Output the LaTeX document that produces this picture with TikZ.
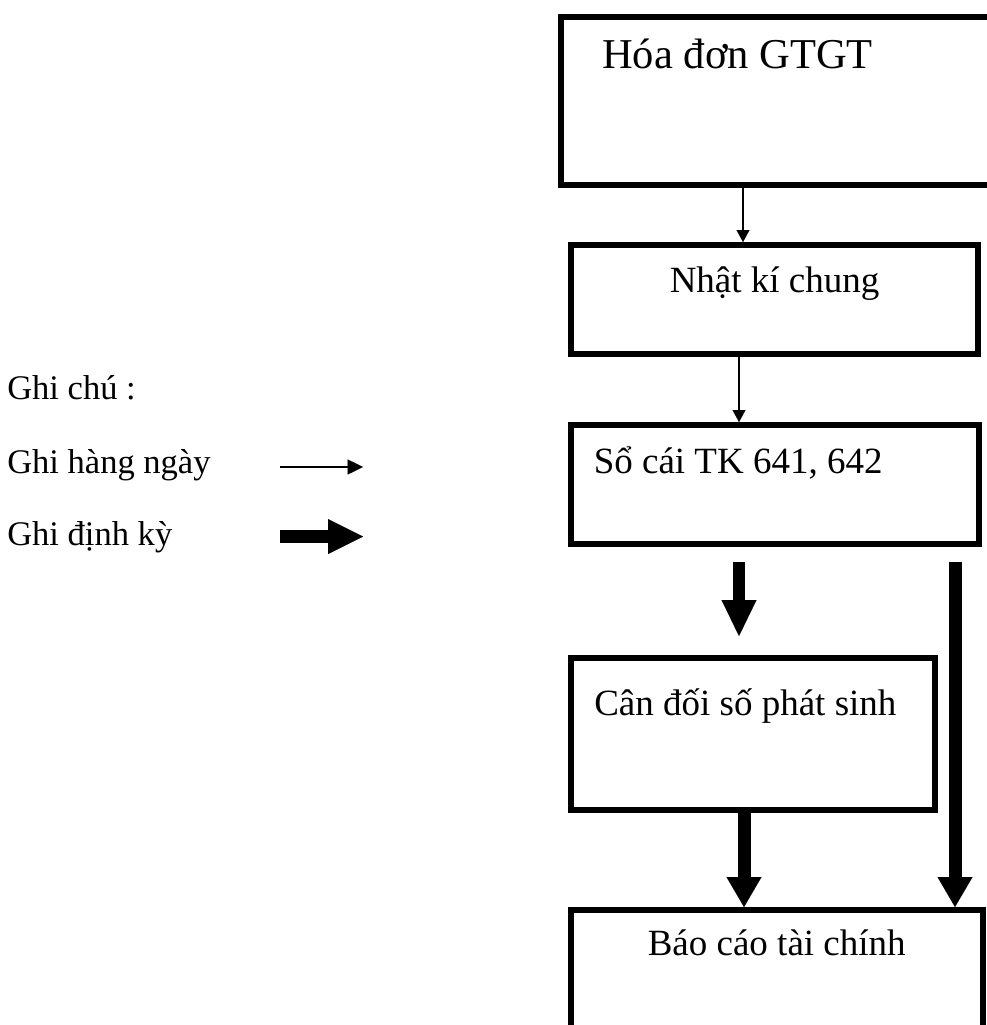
\documentclass[tikz,border=0pt]{standalone}
\usepackage{fontspec}
\setmainfont{Liberation Serif}
\usetikzlibrary{arrows.meta}
\newcommand\pxu{0.75pt}
\begin{document}
\begin{tikzpicture}[x=0.75pt,y=-0.75pt,
  box/.style={draw,line width=4.5pt,inner sep=0pt,rectangle},
  boxtext/.style={anchor=base west,inner sep=0pt,font=\fontsize{27.75}{33}\selectfont},
  titletext/.style={anchor=base west,inner sep=0pt,font=\fontsize{31.9}{38}\selectfont},
  legendtext/.style={anchor=base west,inner sep=0pt,font=\fontsize{25.9}{31}\selectfont},
  daily/.style={line width=1pt,-{Triangle[length=9pt,width=9.75pt,line width=0.01pt]}},
  periodic/.style={line width=9pt,-{Triangle[length=27pt,width=26.25pt,line width=0.01pt]}},
  periodicshort/.style={line width=9.75pt,-{Triangle[length=22.5pt,width=26.25pt,line width=0.01pt]}}
]
\useasboundingbox (0,0) rectangle (987,1025);
\clip (0,0) rectangle (987,1025);

% flow boxes
\node[box,minimum width=439*\pxu,minimum height=168*\pxu] (b1) at (780.5,101) {};
\node[box,minimum width=407*\pxu,minimum height=109*\pxu] (b2) at (774.5,299.5) {};
\node[box,minimum width=408*\pxu,minimum height=119*\pxu] (b3) at (775,484.5) {};
\node[box,minimum width=364*\pxu,minimum height=152*\pxu] (b4) at (753,734) {};
\node[box,minimum width=412*\pxu,minimum height=135*\pxu] (b5) at (777,977.5) {};

% box captions
\node[titletext] (t1) at (602,68) {Hóa đơn GTGT};
\node[boxtext] (t2) at (669.5,292) {Nhật kí chung};
\node[boxtext] (t3) at (593.5,473) {Sổ cái TK 641, 642};
\node[boxtext] (t4) at (594,715) {Cân đối số phát sinh};
\node[boxtext] (t5) at (647.5,955) {Báo cáo tài chính};

% connector columns
\coordinate (c1) at (743,0);
\coordinate (c2) at (739,0);
\coordinate (c3) at (744,0);
\coordinate (bartop) at (955,562);

\draw[daily] (b1.south -| c1) -- (b2.north -| c1);
\draw[daily] (b2.south -| c2) -- (b3.north -| c2);
\draw[periodic,shorten <=11.25pt,shorten >=14.25pt] (b3.south -| c2) -- (b4.north -| c2);
\draw[periodicshort] (b4.south -| c3) -- (b5.north -| c3);
\draw[periodicshort] (bartop) -- (b5.north -| bartop);

% legend
\node[legendtext] (l0) at (7,399) {Ghi chú :};
\node[legendtext] (l1) at (7,473) {Ghi hàng ngày};
\node[legendtext] (l2) at (7,545) {Ghi định kỳ};
\coordinate (la1) at (280,467);
\coordinate (la2) at (363,467);
\coordinate (lb1) at (280,536.5);
\coordinate (lb2) at (363,536.5);
\draw[line width=1pt,-{Triangle[length=11.5pt,width=11.25pt,line width=0.01pt]}] (la1) -- (la2);
\draw[line width=9.75pt,-{Triangle[length=26.25pt,width=26.25pt,line width=0.01pt]}] (lb1) -- (lb2);
\end{tikzpicture}
\end{document}
